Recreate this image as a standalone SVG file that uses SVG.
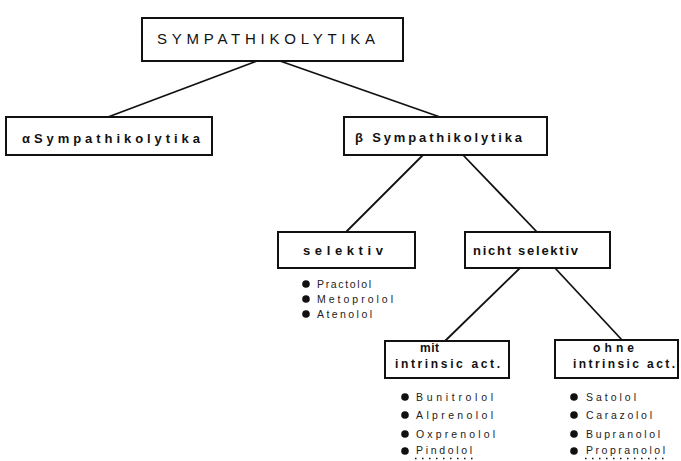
<svg xmlns="http://www.w3.org/2000/svg" width="681" height="461" viewBox="0 0 681 461">
<style>
.box{fill:#fff;stroke:#111;stroke-width:2}
.lbl{font-family:"Liberation Sans",Arial,sans-serif;font-size:13px;font-weight:bold;fill:#111}
.sm{font-size:12px}
.ttl{font-family:"Liberation Sans",Arial,sans-serif;font-size:15px;fill:#111}
.itm{font-family:"Liberation Sans",Arial,sans-serif;font-size:10.5px;fill:#222}
.dot{fill:#111}
.con line{stroke:#111;stroke-width:1.8}
.ul{stroke:#111;stroke-width:1.5;stroke-dasharray:1.5 5.5}
</style>
<rect width="681" height="461" fill="#fff"/>
<g id="connectors" class="con">
<line x1="257" y1="61" x2="108" y2="117"/>
<line x1="280" y1="61" x2="440" y2="117"/>
<line x1="423" y1="155" x2="346" y2="232"/>
<line x1="463" y1="155" x2="537" y2="232"/>
<line x1="520" y1="268" x2="445" y2="341"/>
<line x1="555" y1="268" x2="622" y2="340"/>
</g>
<g id="sympathikolytika">
<rect class="box" x="142" y="18" width="261" height="43"/>
<text class="ttl" x="157" y="44" textLength="218" lengthAdjust="spacing">SYMPATHIKOLYTIKA</text>
</g>
<g id="alpha">
<rect class="box" x="6" y="117" width="206" height="38"/>
<text class="lbl" x="22" y="143" textLength="178" lengthAdjust="spacing">αSympathikolytika</text>
</g>
<g id="beta">
<rect class="box" x="344" y="117" width="203" height="38"/>
<text class="lbl" x="355" y="142" textLength="167" lengthAdjust="spacing">β Sympathikolytika</text>
</g>
<g id="selektiv">
<rect class="box" x="278" y="232" width="137" height="36"/>
<text class="lbl" x="303" y="255" textLength="80" lengthAdjust="spacing">selektiv</text>
<circle class="dot" cx="306" cy="284" r="3.8"/>
<text class="itm" x="317" y="288" textLength="54" lengthAdjust="spacing">Practolol</text>
<circle class="dot" cx="306" cy="299" r="3.8"/>
<text class="itm" x="317" y="303" textLength="76" lengthAdjust="spacing">Metoprolol</text>
<circle class="dot" cx="306" cy="314" r="3.8"/>
<text class="itm" x="317" y="318" textLength="55" lengthAdjust="spacing">Atenolol</text>
</g>
<g id="nicht-selektiv">
<rect class="box" x="465" y="232" width="145" height="36"/>
<text class="lbl" x="473" y="255" textLength="105" lengthAdjust="spacing">nicht selektiv</text>
</g>
<g id="mit">
<rect class="box" x="385" y="341" width="124" height="37"/>
<text class="lbl sm" x="420" y="352" textLength="19" lengthAdjust="spacing">mit</text>
<text class="lbl sm" x="395" y="368" textLength="105" lengthAdjust="spacing">intrinsic act.</text>
<circle class="dot" cx="405" cy="397" r="3.8"/>
<text class="itm" x="416" y="401" textLength="77" lengthAdjust="spacing">Bunitrolol</text>
<circle class="dot" cx="405" cy="415" r="3.8"/>
<text class="itm" x="416" y="419" textLength="77" lengthAdjust="spacing">Alprenolol</text>
<circle class="dot" cx="405" cy="434" r="3.8"/>
<text class="itm" x="416" y="438" textLength="79" lengthAdjust="spacing">Oxprenolol</text>
<circle class="dot" cx="405" cy="451" r="3.8"/>
<text class="itm" x="416" y="454" textLength="56" lengthAdjust="spacing">Pindolol</text>
<line class="ul" x1="415" y1="458.5" x2="478" y2="458.5"/>
</g>
<g id="ohne">
<rect class="box" x="555" y="340" width="123" height="38"/>
<text class="lbl sm" x="593" y="352" textLength="41" lengthAdjust="spacing">ohne</text>
<text class="lbl sm" x="573" y="368" textLength="102" lengthAdjust="spacing">intrinsic act.</text>
<circle class="dot" cx="574" cy="397" r="3.8"/>
<text class="itm" x="586" y="401" textLength="50" lengthAdjust="spacing">Satolol</text>
<circle class="dot" cx="574" cy="415" r="3.8"/>
<text class="itm" x="586" y="419" textLength="66" lengthAdjust="spacing">Carazolol</text>
<circle class="dot" cx="574" cy="434" r="3.8"/>
<text class="itm" x="586" y="438" textLength="74" lengthAdjust="spacing">Bupranolol</text>
<circle class="dot" cx="574" cy="451" r="3.8"/>
<text class="itm" x="586" y="454" textLength="79" lengthAdjust="spacing">Propranolol</text>
<line class="ul" x1="585" y1="458.5" x2="666" y2="458.5"/>
</g>
</svg>
